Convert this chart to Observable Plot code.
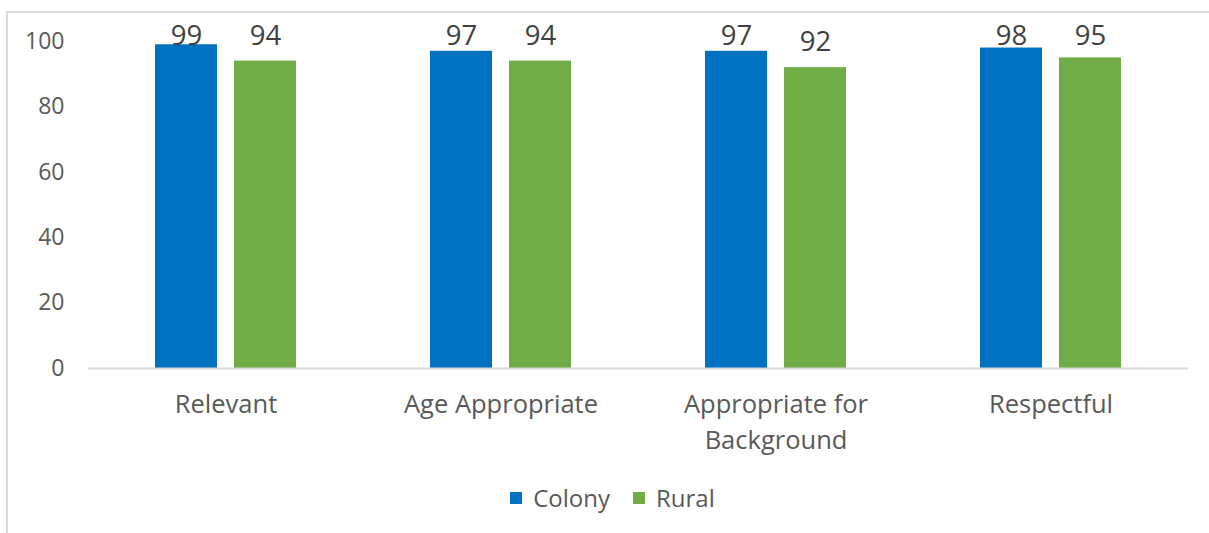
<!DOCTYPE html>
<html>
<head>
<meta charset="utf-8">
<script src="https://cdn.jsdelivr.net/npm/d3@7"></script>
<script src="https://cdn.jsdelivr.net/npm/@observablehq/plot@0.6"></script>
<style>
  html, body { margin: 0; padding: 0; background: #fff; overflow: hidden; }
  #wrap { position: relative; width: 1209px; height: 533px; font-family: "Open Sans", "Noto Sans", sans-serif; }
  #frame { position: absolute; left: 6px; top: 11px; width: 1400px; height: 700px; border-left: 2px solid #d9d9d9; border-top: 2px solid #d9d9d9; pointer-events: none; }
  #chart { position: absolute; left: 0; top: 0; }
  #legend { position: absolute; left: 0; top: 466px; width: 1209px; height: 63px; display: flex; justify-content: center; align-items: center; gap: 23px; font-size: 24px; color: #595959; padding-left: 16px; box-sizing: border-box; }
  .item { display: flex; align-items: center; gap: 11px; }
  .sw { width: 12px; height: 12px; display: inline-block; }
</style>
</head>
<body>
<div id="wrap">
  <div id="frame"></div>
  <div id="chart"></div>
  <div id="legend"></div>
</div>
<script>
const categories = ["Relevant", "Age Appropriate", "Appropriate for\nBackground", "Respectful"];
const series = ["Colony", "Rural"];
const colonyValues = [99, 97, 97, 98];
const ruralValues = [94, 94, 92, 95];
const yTicks = [0, 20, 40, 60, 80, 100];
const colors = ["#0070C0", "#70AD47"];

const data = [];
categories.forEach((c, i) => {
  data.push({cat: c, series: "Colony", value: colonyValues[i]});
  data.push({cat: c, series: "Rural", value: ruralValues[i]});
});

const chart = Plot.plot({
  width: 1209,
  height: 470,
  marginLeft: 88,
  marginRight: 21,
  marginTop: 41,
  marginBottom: 102,
  style: {fontFamily: "'Open Sans', 'Noto Sans', sans-serif", background: "transparent"},
  fx: {domain: categories, padding: 0, label: null},
  x: {domain: series, paddingInner: 0.215, paddingOuter: 0.848, axis: null},
  y: {domain: [0, 100], label: null},
  color: {domain: series, range: colors},
  marks: [
    Plot.axisY({ticks: yTicks, tickSize: 0, tickPadding: 24, fontSize: 23, color: "#595959", label: null}),
    Plot.axisFx({anchor: "bottom", tickSize: 0, tickPadding: 19, fontSize: 25.5, color: "#595959", lineHeight: 1.41, label: null}),
    Plot.barY(data, {fx: "cat", x: "series", y: "value", fill: "series"}),
    Plot.ruleY([0], {stroke: "#d9d9d9", strokeWidth: 2}),
    Plot.text(data, {fx: "cat", x: "series", y: d => Math.min(d.value + 5.8, 99.4), dy: 2, text: d => String(d.value), lineAnchor: "bottom", fontSize: 27.5, fill: "#404040"})
  ]
});
document.getElementById("chart").appendChild(chart);

const legend = document.getElementById("legend");
series.forEach((s, i) => {
  const it = document.createElement("div");
  it.className = "item";
  const sw = document.createElement("span");
  sw.className = "sw";
  sw.style.background = colors[i];
  const t = document.createElement("span");
  t.textContent = s;
  it.appendChild(sw);
  it.appendChild(t);
  legend.appendChild(it);
});
</script>
</body>
</html>
